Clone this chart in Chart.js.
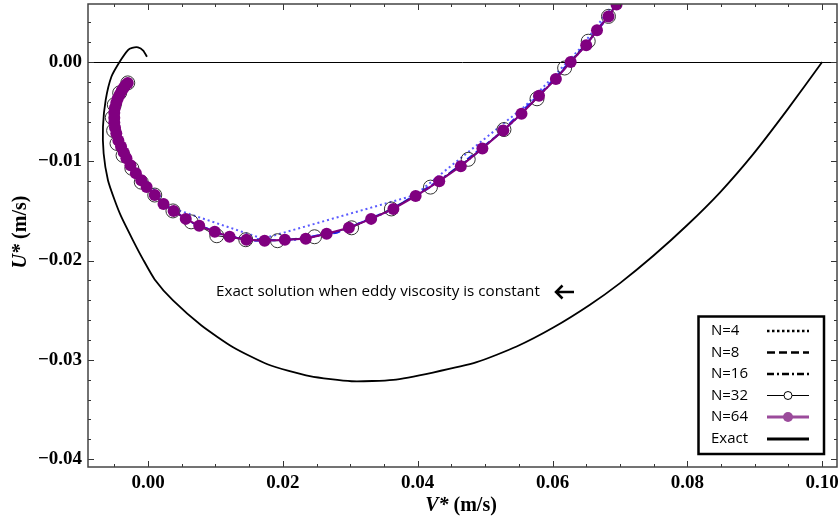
<!DOCTYPE html>
<html>
<head>
<meta charset="utf-8">
<script src="https://cdn.jsdelivr.net/npm/chart.js@4.4.1/dist/chart.umd.min.js"></script>
<style>
  html, body { margin: 0; padding: 0; background: #fff; }
  #wrap { width: 840px; height: 521px; }
</style>
</head>
<body>
<div id="wrap"><canvas id="hodograph" width="840" height="521"></canvas></div>
<script>
// exact solution (constant eddy viscosity)
const exactV = [-0.00015, -0.00071, -0.00148, -0.00235, -0.00297, -0.0042, -0.00543, -0.00628, -0.00668, -0.00658,
    -0.00594, -0.00494, -0.00395, -0.00223, -0.00074, 0.00099, 0.00371, 0.00793, 0.01262, 0.01781, 0.0240, 0.03019,
    0.03637, 0.04226, 0.04875, 0.05468, 0.06012, 0.06556, 0.07002, 0.07496, 0.07992, 0.08486, 0.0898, 0.09476, 0.1000];
const exactU = [0.00053, 0.00116, 0.00148, 0.00143, 0.00121, 0.00003, -0.00148, -0.00383, -0.00653, -0.00921,
    -0.01191, -0.01393, -0.01561, -0.01796, -0.01988, -0.0219, -0.02402, -0.02654, -0.02873, -0.03047, -0.03165, -0.03216,
    -0.03202, -0.03128, -0.03024, -0.02866, -0.02675, -0.02445, -0.02227, -0.01952, -0.01647, -0.01312, -0.00925, -0.00487, 0.0000];

// N=64
const n64V = [-0.0030, -0.0033, -0.0036, -0.0039, -0.0042, -0.0045, -0.0047, -0.0049, -0.0050, -0.0050,
    -0.0050, -0.0049, -0.0047, -0.0044, -0.0040, -0.0036, -0.0032, -0.0026, -0.0018, -0.0010, -0.0002, 0.0010,
    0.0023, 0.0038, 0.0056, 0.0076, 0.0099, 0.0121, 0.0146, 0.0173, 0.0203, 0.0234, 0.0265, 0.0298, 0.0331,
    0.0364, 0.0397, 0.0432, 0.0464, 0.0496, 0.0527, 0.0554, 0.0580, 0.0605, 0.0627, 0.0650, 0.0666, 0.0683,
    0.0695, 0.0710];
const n64U = [-0.0021, -0.0023, -0.0026, -0.0029, -0.0033, -0.0037, -0.0041, -0.0046, -0.0051, -0.0056,
    -0.0061, -0.0066, -0.0072, -0.0079, -0.0085, -0.0091, -0.0097, -0.0104, -0.0112, -0.0119, -0.0126, -0.0134,
    -0.0143, -0.0150, -0.0158, -0.0165, -0.0171, -0.0176, -0.0179, -0.0180, -0.0179, -0.0178, -0.0173, -0.0167, -0.0158,
    -0.0148, -0.0135, -0.0120, -0.0105, -0.0087, -0.0069, -0.0052, -0.0034, -0.0017, 0.0000, 0.0017, 0.0032, 0.0046,
    0.0058, 0.0072];

// N=32
const n32V = [-0.0030, -0.0042, -0.0050, -0.0053, -0.0051, -0.0046, -0.0037, -0.0024, -0.0010, 0.0010, 0.0037,
    0.0064, 0.0102, 0.0145, 0.0192, 0.0247, 0.0302, 0.0361, 0.0419, 0.0475, 0.0528, 0.0577, 0.0618, 0.0653,
    0.0683, 0.0710];
const n32U = [-0.0021, -0.0031, -0.0043, -0.0056, -0.0069, -0.0082, -0.0094, -0.0107, -0.0121, -0.0134, -0.0150,
    -0.0161, -0.0175, -0.0179, -0.0180, -0.0176, -0.0167, -0.0148, -0.0126, -0.0098, -0.0068, -0.0037, -0.0006, 0.0021,
    0.0046, 0.0072];

// N=16
const n16V = [-0.0030, -0.0045, -0.0050, -0.0050, -0.0046, -0.0040, -0.0030, -0.0014, 0.0004, 0.0030, 0.0066,
    0.0110, 0.0160, 0.0218, 0.0282, 0.0348, 0.0414, 0.0480, 0.0540, 0.0593, 0.0639, 0.0675, 0.0710];
const n16U = [-0.0021, -0.0033, -0.0048, -0.0062, -0.0076, -0.0087, -0.0099, -0.0116, -0.0130, -0.0147, -0.0162,
    -0.0174, -0.0180, -0.0179, -0.0171, -0.0153, -0.0128, -0.0096, -0.0061, -0.0025, 0.0009, 0.0039, 0.0072];

// N=8
const n8V = [-0.0030, -0.0049, -0.0049, -0.0036, -0.0012, 0.0020, 0.0065, 0.0125, 0.0200, 0.0280, 0.0360,
    0.0440, 0.0520, 0.0590, 0.0650, 0.0710];
const n8U = [-0.0021, -0.0045, -0.0072, -0.0093, -0.0118, -0.0141, -0.0162, -0.0177, -0.0180, -0.0172, -0.0149,
    -0.0116, -0.0073, -0.0026, 0.0018, 0.0072];

// N=4
const n4V = [-0.0030, -0.0050, -0.0030, 0.0035, 0.0170, 0.0396, 0.0560, 0.0640, 0.0720];
const n4U = [-0.0021, -0.0060, -0.0100, -0.0147, -0.0178, -0.0134, -0.0044, 0.0013, 0.0085];

// axes
const xTickValues = [0.00, 0.02, 0.04, 0.06, 0.08, 0.10];
const xTickLabels = ['0.00', '0.02', '0.04', '0.06', '0.08', '0.10'];
const yTickValues = [-0.04, -0.03, -0.02, -0.01, 0.00];
const yTickLabels = ['\u22120.04', '\u22120.03', '\u22120.02', '\u22120.01', '0.00'];

const legendNames = ['N=4', 'N=8', 'N=16', 'N=32', 'N=64', 'Exact'];
const noteText = 'Exact solution when eddy viscosity is constant';

function pts(vs, us) {
    return vs.map((v, i) => ({ x: v, y: us[i] }));
}

const PURPLE = '#800080';
const BLUE = '#2222ee';

// frame, inward ticks, zero line, titles, note and legend
const decorations = {
    id: 'decorations',
    beforeDatasetsDraw(chart) {
        const { ctx, chartArea: a, scales: { y } } = chart;
        ctx.save();
        ctx.strokeStyle = '#000';
        ctx.lineWidth = 1;
        const y0 = Math.round(y.getPixelForValue(0)) + 0.5;
        ctx.beginPath();
        ctx.moveTo(a.left, y0);
        ctx.lineTo(a.right, y0);
        ctx.stroke();
        ctx.restore();
    },
    afterDraw(chart) {
        const { ctx, chartArea: a, scales: { x, y } } = chart;
        ctx.save();

        // ticks on all four sides
        ctx.strokeStyle = '#333';
        ctx.lineWidth = 1;
        ctx.beginPath();
        for (let k = -1; k <= 20; k++) {
            const v = k * 0.005;
            if (v < x.min || v > x.max) continue;
            const px = Math.round(x.getPixelForValue(v)) + 0.5;
            const len = (k % 4 === 0) ? 6 : 3;
            ctx.moveTo(px, a.bottom); ctx.lineTo(px, a.bottom - len);
            ctx.moveTo(px, a.top); ctx.lineTo(px, a.top + len);
        }
        for (let k = -21; k <= 3; k++) {
            const v = k * 0.002;
            if (v < y.min || v > y.max) continue;
            const py = Math.round(y.getPixelForValue(v)) + 0.5;
            const len = (k % 5 === 0) ? 6 : 3;
            ctx.moveTo(a.left, py); ctx.lineTo(a.left + len, py);
            ctx.moveTo(a.right, py); ctx.lineTo(a.right - len, py);
        }
        ctx.stroke();

        // frame
        ctx.strokeStyle = '#444';
        ctx.lineWidth = 1.5;
        ctx.strokeRect(a.left, a.top, a.right - a.left, a.bottom - a.top);

        // axis titles: italic symbol + upright unit
        const drawTitle = (sym, unit, cx, cy, rot) => {
            ctx.save();
            ctx.translate(cx, cy);
            ctx.rotate(rot);
            ctx.fillStyle = '#000';
            ctx.textBaseline = 'middle';
            const fi = 'italic bold 20px "Liberation Serif", serif';
            const fb = 'bold 20px "Liberation Serif", serif';
            ctx.font = fi;
            const w1 = ctx.measureText(sym).width;
            ctx.font = fb;
            const w2 = ctx.measureText(unit).width;
            const sx = -(w1 + w2) / 2;
            ctx.font = fi;
            ctx.textAlign = 'left';
            ctx.fillText(sym, sx, 0);
            ctx.font = fb;
            ctx.fillText(unit, sx + w1, 0);
            ctx.restore();
        };
        drawTitle('V*', ' (m/s)', 461, 506, 0);
        drawTitle('U*', ' (m/s)', 21, 232, -Math.PI / 2);

        // note with arrow
        ctx.fillStyle = '#000';
        ctx.font = '15.2px "Open Sans", sans-serif';
        ctx.textAlign = 'left';
        ctx.textBaseline = 'middle';
        ctx.fillText(noteText, 216, 292);
        ctx.strokeStyle = '#000';
        ctx.lineWidth = 2.5;
        ctx.beginPath();
        ctx.moveTo(556, 292); ctx.lineTo(574, 292);
        ctx.moveTo(562.5, 285.5); ctx.lineTo(556, 292); ctx.lineTo(562.5, 298.5);
        ctx.stroke();

        // legend box
        const bx = 698.5, by = 316.5, bw = 125.5, bh = 137.5;
        ctx.fillStyle = '#fff';
        ctx.fillRect(bx, by, bw, bh);
        ctx.strokeStyle = '#000';
        ctx.lineWidth = 2.5;
        ctx.strokeRect(bx, by, bw, bh);
        const rows = [331, 352.5, 374, 395.5, 417, 439];
        const sx0 = 767, sx1 = 809, sxm = 788;
        ctx.font = '15px "Open Sans", sans-serif';
        legendNames.forEach((name, i) => {
            const ry = rows[i];
            ctx.fillStyle = '#000';
            ctx.fillText(name, 711, ry);
            ctx.save();
            ctx.beginPath();
            ctx.moveTo(sx0, ry); ctx.lineTo(sx1, ry);
            if (i === 0) { ctx.setLineDash([2.5, 2.5]); ctx.lineWidth = 2.5; ctx.strokeStyle = '#000'; }
            if (i === 1) { ctx.setLineDash([8, 4]); ctx.lineWidth = 2.5; ctx.strokeStyle = '#000'; }
            if (i === 2) { ctx.setLineDash([7, 3, 2, 3]); ctx.lineWidth = 2.5; ctx.strokeStyle = '#000'; }
            if (i === 3) { ctx.lineWidth = 1; ctx.strokeStyle = '#000'; }
            if (i === 4) { ctx.lineWidth = 3; ctx.strokeStyle = '#9b4b9b'; }
            if (i === 5) { ctx.lineWidth = 3; ctx.strokeStyle = '#000'; }
            ctx.stroke();
            ctx.setLineDash([]);
            if (i === 3) {
                ctx.beginPath();
                ctx.arc(sxm, ry, 4, 0, Math.PI * 2);
                ctx.fillStyle = '#fff';
                ctx.fill();
                ctx.lineWidth = 1;
                ctx.stroke();
            }
            if (i === 4) {
                ctx.beginPath();
                ctx.arc(sxm, ry, 5, 0, Math.PI * 2);
                ctx.fillStyle = '#9b4b9b';
                ctx.fill();
            }
            ctx.restore();
        });

        ctx.restore();
    }
};

const ctx = document.getElementById('hodograph').getContext('2d');
const chart = new Chart(ctx, {
    type: 'scatter',
    data: {
        datasets: [
            {
                label: 'N=64', data: pts(n64V, n64U), showLine: true,
                borderColor: PURPLE, borderWidth: 2,
                pointRadius: 6, pointBackgroundColor: PURPLE, pointBorderWidth: 0,
                clip: 0
            },
            {
                label: 'N=32', data: pts(n32V, n32U), showLine: true,
                borderColor: '#222', borderWidth: 1,
                pointRadius: 7, pointBackgroundColor: 'rgba(0,0,0,0)',
                pointBorderColor: '#333', pointBorderWidth: 1,
                clip: 0
            },
            {
                label: 'N=16', data: pts(n16V, n16U), showLine: true,
                borderColor: BLUE, borderWidth: 2, borderDash: [7, 3, 2, 3],
                pointRadius: 0, clip: 0
            },
            {
                label: 'N=8', data: pts(n8V, n8U), showLine: true,
                borderColor: BLUE, borderWidth: 2, borderDash: [7, 4],
                pointRadius: 0, clip: 0
            },
            {
                label: 'N=4', data: pts(n4V, n4U), showLine: true,
                borderColor: '#5a5aff', borderWidth: 2, borderDash: [2, 3],
                pointRadius: 0, clip: 0
            },
            {
                label: 'Exact', data: pts(exactV, exactU), showLine: true,
                borderColor: '#000', borderWidth: 1.8,
                pointRadius: 0, tension: 0.2, clip: 0
            }
        ]
    },
    options: {
        responsive: false,
        animation: false,
        devicePixelRatio: 1,
        layout: { autoPadding: false, padding: { left: 0, right: 3, top: 4, bottom: 0 } },
        plugins: {
            legend: { display: false },
            tooltip: { enabled: false }
        },
        scales: {
            x: {
                type: 'linear',
                min: -0.0089,
                max: 0.1022,
                grid: { display: false, drawTicks: false },
                border: { display: false },
                afterFit: s => { s.height = 54; s.paddingLeft = 0; s.paddingRight = 0; },
                afterBuildTicks: s => { s.ticks = xTickValues.map(v => ({ value: v })); },
                ticks: {
                    padding: 5,
                    color: '#000',
                    font: { family: '"Liberation Serif", serif', size: 19, weight: 'bold' },
                    callback: (v) => xTickLabels[xTickValues.findIndex(t => Math.abs(t - v) < 1e-9)]
                }
            },
            y: {
                type: 'linear',
                min: -0.0408,
                max: 0.00585,
                grid: { display: false, drawTicks: false },
                border: { display: false },
                afterFit: s => { s.width = 88; s.paddingTop = 0; s.paddingBottom = 0; },
                afterBuildTicks: s => { s.ticks = yTickValues.map(v => ({ value: v })); },
                ticks: {
                    padding: 6,
                    color: '#000',
                    font: { family: '"Liberation Serif", serif', size: 19, weight: 'bold' },
                    callback: (v) => yTickLabels[yTickValues.findIndex(t => Math.abs(t - v) < 1e-9)]
                }
            }
        }
    },
    plugins: [decorations]
});
</script>
</body>
</html>
